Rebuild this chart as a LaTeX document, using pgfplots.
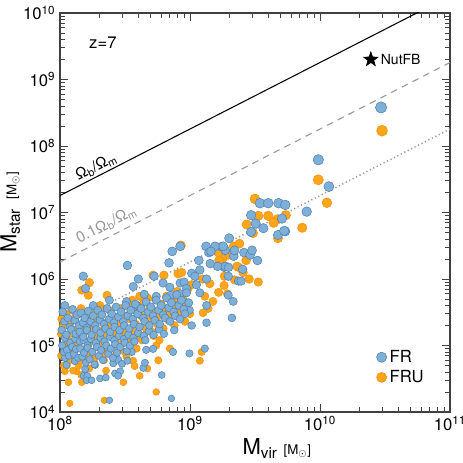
\documentclass[border=0pt]{standalone}
\usepackage{fontspec}
\setmainfont{TeX Gyre Heros}
\usepackage{pgfplots}
\usepackage{pgfplotstable}
\pgfplotsset{compat=1.18}
\usetikzlibrary{calc}

\definecolor{fillB}{RGB}{125,175,215}
\definecolor{edgeB}{RGB}{80,130,178}
\definecolor{fillO}{RGB}{255,165,25}
\definecolor{edgeO}{RGB}{242,145,20}
\definecolor{lgray}{RGB}{150,150,150}

% filled five-pointed star
\pgfdeclareplotmark{fstar}{%
  \pgfpathmoveto{\pgfpointpolar{90}{\pgfplotmarksize}}%
  \pgfpathlineto{\pgfpointpolar{126}{0.4\pgfplotmarksize}}%
  \pgfpathlineto{\pgfpointpolar{162}{\pgfplotmarksize}}%
  \pgfpathlineto{\pgfpointpolar{198}{0.4\pgfplotmarksize}}%
  \pgfpathlineto{\pgfpointpolar{234}{\pgfplotmarksize}}%
  \pgfpathlineto{\pgfpointpolar{270}{0.4\pgfplotmarksize}}%
  \pgfpathlineto{\pgfpointpolar{306}{\pgfplotmarksize}}%
  \pgfpathlineto{\pgfpointpolar{342}{0.4\pgfplotmarksize}}%
  \pgfpathlineto{\pgfpointpolar{18}{\pgfplotmarksize}}%
  \pgfpathlineto{\pgfpointpolar{54}{0.4\pgfplotmarksize}}%
  \pgfpathclose\pgfusepathqfillstroke}

\newcommand{\labsub}[1]{{\fontsize{11.5}{13}\selectfont\raisebox{-0.45ex}{#1}}}
\newcommand{\msun}{{\fontsize{10}{12}\selectfont [M$_\odot$]}}

% FRU run (orange)
\pgfplotstableread{
x y
3.0e10 1.7e8
9.7e9 3.1e7
1.13e10 1.4e7
7.3e9 5.9e6
3.16e9 1.6e7
3.35e9 8.9e6
4.0e9 8.9e6
5.45e9 9.1e6
4.7e9 7.9e6
4.4e9 7.0e6
2.73e9 6.6e6
3.05e9 4.9e6
4.75e9 4.1e6
2.17e9 3.1e6
2.4e9 3.4e6
1.7e9 2.5e6
1.97e9 2.3e6
2.7e9 1.9e6
1.78e9 2.0e6
2.36e9 1.5e6
2.56e9 1.25e6
1.84e9 1.1e6
2.2e9 9.7e5
2.85e9 1.0e6
3.35e9 9.0e5
1.83e9 8.0e5
1.94e9 6.0e5
1.65e9 2.5e6
1.67e9 1.9e6
2.3e9 1.55e6
1.7e9 1.6e6
8.5e8 3.2e6
8.1e8 1.2e6
8.6e8 1.25e6
1.25e9 1.0e6
1.03e9 8.2e5
1.42e9 8.5e5
1.3e9 5.5e5
1.5e9 4.6e5
1.66e9 6.3e5
1.38e9 3.6e5
1.26e9 3.1e5
1.23e9 8.0e4
1.19e9 5.9e4
1.68e8 8.8e5
1.47e8 6.8e5
1.65e8 5.7e5
5.2e8 1.14e6
6.3e8 1.14e6
4.1e8 5.5e5
4.7e8 5.2e5
7.9e8 5.2e5
3.6e8 4.8e5
2.3e8 5.7e5
2.03e8 4.0e5
1.45e8 3.6e5
1.23e8 3.4e5
1.13e8 5.0e4
1.34e8 4.1e4
1.46e8 3.6e4
1.16e8 2.8e4
1.47e8 2.8e4
1.19e8 1.35e4
1.09e8 4.1e4
2.26e8 4.2e4
3.07e8 2.8e4
2.19e8 1.5e4
3.25e8 6.8e4
3.65e8 5.9e4
3.75e8 4.9e4
4.1e8 3.5e4
4.7e8 4.5e4
5.5e8 1.0e5
5.5e8 2.0e4
5.7e8 6.0e4
7.0e8 9.0e4
1.03e8 2.5e5
1.02e8 1.5e5
1.06e8 1.0e5
1.02e8 7.0e4
1.07e8 5.0e4
1.1e8 3.0e5
1.06e8 2.0e5
1.14e8 1.2e5
1.07e8 8.0e4
1.16e8 5.8e4
1.2e8 2.2e5
1.15e8 1.4e5
1.25e8 9.0e4
1.16e8 6.0e4
1.26e8 4.2e4
1.32e8 2.7e5
1.27e8 1.7e5
1.37e8 1.1e5
1.28e8 7.0e4
1.39e8 5.0e4
1.45e8 2.0e5
1.39e8 1.3e5
1.51e8 8.5e4
1.41e8 5.8e4
1.6e8 2.5e5
1.54e8 1.6e5
1.66e8 1.05e5
1.55e8 7.0e4
1.68e8 4.5e4
1.75e8 3.1e5
1.68e8 1.9e5
1.82e8 1.25e5
1.7e8 8.0e4
1.84e8 5.5e4
1.9e8 2.3e5
1.82e8 1.5e5
1.98e8 9.5e4
1.84e8 6.5e4
2.05e8 3.5e5
1.97e8 2.6e5
2.13e8 1.7e5
1.99e8 1.1e5
2.15e8 7.5e4
2.25e8 2.2e5
2.16e8 1.4e5
2.34e8 9.0e4
2.18e8 6.0e4
2.45e8 3.3e5
2.35e8 2.0e5
2.55e8 1.3e5
2.38e8 8.5e4
2.7e8 2.5e5
2.59e8 1.6e5
2.81e8 1.05e5
2.62e8 7.0e4
2.95e8 3.6e5
2.83e8 2.2e5
3.07e8 1.4e5
2.86e8 9.0e4
3.25e8 2.8e5
3.12e8 1.8e5
3.38e8 1.2e5
3.15e8 8.0e4
3.6e8 4.0e5
3.46e8 2.5e5
3.74e8 1.6e5
3.49e8 1.05e5
4.0e8 3.2e5
3.84e8 2.1e5
4.16e8 1.4e5
3.88e8 9.0e4
4.4e8 4.4e5
4.22e8 2.8e5
4.58e8 1.8e5
4.27e8 1.2e5
4.9e8 3.6e5
4.7e8 2.4e5
5.1e8 1.6e5
5.4e8 5.0e5
5.18e8 3.2e5
5.62e8 2.1e5
5.24e8 1.4e5
6.0e8 4.2e5
5.76e8 2.8e5
6.24e8 1.8e5
5.82e8 1.2e5
6.6e8 5.5e5
6.34e8 3.6e5
6.86e8 2.4e5
7.3e8 4.6e5
7.01e8 3.1e5
7.59e8 2.0e5
8.0e8 6.5e5
7.68e8 4.0e5
8.32e8 2.6e5
8.8e8 5.2e5
8.45e8 3.4e5
9.15e8 2.3e5
9.6e8 7.0e5
9.22e8 4.5e5
9.98e8 3.0e5
}\fruData

% FR run (blue)
\pgfplotstableread{
x y
2.95e10 3.8e8
9.7e9 6.2e7
1.17e10 2.45e7
7.9e9 1.03e7
5.4e9 5.2e6
4.75e9 4.6e6
2.0e9 4.1e6
3.45e9 1.38e7
4.0e9 1.38e7
4.8e9 1.38e7
5.4e9 1.3e7
2.95e9 9.1e6
5.1e9 8.1e6
3.2e9 6.8e6
3.67e9 5.8e6
2.95e9 5.1e6
5.3e9 5.3e6
1.75e9 3.06e6
1.87e9 2.7e6
2.17e9 2.2e6
2.6e9 2.5e6
2.9e9 2.3e6
3.0e9 2.7e6
3.3e9 1.9e6
1.83e9 1.5e6
1.87e9 1.55e6
1.63e9 1.55e6
2.54e9 1.4e6
1.97e9 1.1e6
2.36e9 9.3e5
2.47e9 9.3e5
1.97e9 5.7e5
2.15e9 4.6e5
2.1e9 2.6e5
1.33e9 3.1e6
1.56e9 3.1e6
1.8e9 3.1e6
1.4e9 2.5e6
1.45e9 2.6e6
2.2e9 2.7e6
1.43e9 1.7e6
1.98e9 1.5e6
8.4e8 3.1e6
7.3e8 2.6e6
6.9e8 1.75e6
1.17e9 1.9e6
1.19e9 1.37e6
1.03e9 1.22e6
1.09e9 1.1e6
1.34e9 1.0e6
8.4e8 8.7e5
9.0e8 9.0e5
1.12e9 8.2e5
9.4e8 7.2e5
1.19e9 6.2e5
1.34e9 4.0e5
9.9e8 3.4e5
1.03e9 2.0e5
1.34e9 2.2e5
9.9e8 7.6e4
1.3e9 9.0e4
1.51e8 1.1e6
1.57e8 7.2e5
3.3e8 1.6e6
4.0e8 1.0e6
3.66e8 7.7e5
5.3e8 1.1e6
6.2e8 8.7e5
7.0e8 7.5e5
4.45e8 5.9e5
5.5e8 5.5e5
7.1e8 5.7e5
8.4e8 6.0e5
3.25e8 4.6e5
2.4e8 4.8e5
3.9e8 4.0e5
1.8e8 4.0e5
1.09e8 4.0e5
1.09e8 6.5e4
1.3e8 5.8e4
1.12e8 5.1e4
1.52e8 3.5e4
1.62e8 3.5e4
1.6e8 3.0e4
1.75e8 3.0e4
1.56e8 4.4e4
1.86e8 5.1e4
2.03e8 3.2e4
2.25e8 3.3e4
2.65e8 3.8e4
2.9e8 4.1e4
2.8e8 3.5e4
2.4e8 1.5e4
2.57e8 5.4e4
2.8e8 6.1e4
3.0e8 5.3e4
3.3e8 5.9e4
3.56e8 8.0e4
4.37e8 4.6e4
4.5e8 5.5e4
4.6e8 8.6e4
5.2e8 8.9e4
6.05e8 3.6e4
7.2e8 1.6e4
7.4e8 8.0e4
1.05e8 3.2e5
1.08e8 2.3e5
1.03e8 1.7e5
1.09e8 1.3e5
1.04e8 1.0e5
1.07e8 8.0e4
1.15e8 2.6e5
1.19e8 1.9e5
1.12e8 1.45e5
1.2e8 1.1e5
1.13e8 8.5e4
1.17e8 7.0e4
1.25e8 3.5e5
1.3e8 2.4e5
1.22e8 1.75e5
1.31e8 1.25e5
1.24e8 9.5e4
1.28e8 7.5e4
1.35e8 2.9e5
1.4e8 2.0e5
1.32e8 1.5e5
1.42e8 1.15e5
1.33e8 8.8e4
1.38e8 6.5e4
1.45e8 3.1e5
1.5e8 2.2e5
1.42e8 1.6e5
1.52e8 1.2e5
1.43e8 9.0e4
1.48e8 6.8e4
1.55e8 2.6e5
1.61e8 1.85e5
1.51e8 1.35e5
1.63e8 1.0e5
1.53e8 7.8e4
1.58e8 5.5e4
1.65e8 3.3e5
1.72e8 2.3e5
1.61e8 1.7e5
1.73e8 1.25e5
1.63e8 9.2e4
1.69e8 6.2e4
1.8e8 2.8e5
1.87e8 2.0e5
1.75e8 1.45e5
1.89e8 1.1e5
1.77e8 8.0e4
1.84e8 5.2e4
1.95e8 3.4e5
2.03e8 2.4e5
1.9e8 1.75e5
2.05e8 1.3e5
1.92e8 9.5e4
1.99e8 7.0e4
2.1e8 2.9e5
2.18e8 2.1e5
2.05e8 1.55e5
2.2e8 1.15e5
2.07e8 8.5e4
2.14e8 6.0e4
2.3e8 3.6e5
2.39e8 2.5e5
2.24e8 1.8e5
2.42e8 1.35e5
2.27e8 1.0e5
2.35e8 7.5e4
2.5e8 3.0e5
2.6e8 2.2e5
2.43e8 1.6e5
2.62e8 1.2e5
2.46e8 9.0e4
2.55e8 6.5e4
2.7e8 3.8e5
2.81e8 2.7e5
2.63e8 1.9e5
2.84e8 1.4e5
2.66e8 1.05e5
2.75e8 7.8e4
2.95e8 3.2e5
3.07e8 2.3e5
2.87e8 1.7e5
3.1e8 1.25e5
2.91e8 9.5e4
3.2e8 4.0e5
3.33e8 2.8e5
3.12e8 2.0e5
3.36e8 1.45e5
3.15e8 1.1e5
3.26e8 8.2e4
3.5e8 3.4e5
3.64e8 2.5e5
3.41e8 1.8e5
3.67e8 1.3e5
3.45e8 1.0e5
3.8e8 4.2e5
3.95e8 3.0e5
3.7e8 2.1e5
3.99e8 1.55e5
3.74e8 1.15e5
4.2e8 3.6e5
4.37e8 2.6e5
4.09e8 1.9e5
4.41e8 1.4e5
4.6e8 4.5e5
4.78e8 3.2e5
4.48e8 2.3e5
4.83e8 1.65e5
4.53e8 1.2e5
5.0e8 3.8e5
5.2e8 2.8e5
4.87e8 2.0e5
5.25e8 1.45e5
5.5e8 4.8e5
5.72e8 3.4e5
5.36e8 2.4e5
5.78e8 1.75e5
6.0e8 4.0e5
6.24e8 2.9e5
5.85e8 2.1e5
6.3e8 1.5e5
6.6e8 5.2e5
6.86e8 3.7e5
6.43e8 2.6e5
7.2e8 4.4e5
7.49e8 3.2e5
7.01e8 2.3e5
7.56e8 1.7e5
7.9e8 5.8e5
8.2e8 4.0e5
7.7e8 2.8e5
8.6e8 4.8e5
8.94e8 3.5e5
8.38e8 2.5e5
9.4e8 6.2e5
9.78e8 4.4e5
9.16e8 3.0e5
}\frData

\begin{document}
\begin{tikzpicture}
\begin{axis}[
    scale only axis,
    width=292.5pt, height=299.25pt,
    xmode=log, ymode=log,
    xmin=1e8, xmax=1e11,
    ymin=1e4, ymax=1e10,
    xtick={1e8,1e9,1e10,1e11},
    xticklabels={10\textsuperscript{8},10\textsuperscript{9},10\textsuperscript{10},10\textsuperscript{11}},
    ytick={1e4,1e5,1e6,1e7,1e8,1e9,1e10},
    yticklabels={10\textsuperscript{4},10\textsuperscript{5},10\textsuperscript{6},10\textsuperscript{7},10\textsuperscript{8},10\textsuperscript{9},10\textsuperscript{10}},
    tick label style={font=\fontsize{12.5}{14}\selectfont},
    major tick length=6pt, minor tick length=3.5pt,
    axis line style={line width=0.8pt, black!75},
    every tick/.style={black!75, line width=0.6pt},
    xlabel={{\fontsize{16.5}{18}\selectfont M\labsub{vir}}\hspace{5pt}\msun},
    ylabel={{\fontsize{16.5}{18}\selectfont M\labsub{star}}\hspace{7pt}\msun},
    xlabel style={at={(axis description cs:0.556,-0.055)}, anchor=north},
    ylabel style={at={(axis description cs:-0.09,0.5)}, anchor=south},
    reverse legend,
    legend style={draw=none, fill=none, at={(axis description cs:0.80,0.112)}, anchor=west,
      font=\fontsize{12.5}{14}\selectfont, row sep=0.5pt},
    legend cell align=left,
]
% Omega_b/Omega_m and scaled versions
\addplot[black, line width=0.8pt, forget plot] coordinates {(1e8,1.8e7) (1e11,1.8e10)};
\addplot[lgray, line width=0.8pt, dash pattern=on 5pt off 4pt, forget plot] coordinates {(1e8,1.8e6) (1e11,1.8e9)};
\addplot[lgray, line width=1.1pt, dash pattern=on 0.9pt off 2pt, forget plot] coordinates {(1e8,1.8e5) (1e11,1.8e8)};

\addplot[only marks, scatter, mark=*,
    visualization depends on={y \as \ly},
    scatter/use mapped color={draw=edgeO, fill=fillO},
    scatter/@pre marker code/.append style={/tikz/mark size={2.4+0.4*(\ly/2.302585-4)}},
    mark options={line width=0.4pt},
    legend image code/.code={\draw[draw=edgeO, fill=fillO, line width=0.4pt] (0.2em,0pt) circle (3.8pt);}]
    table[x=x, y=y] {\fruData};
\addlegendentry{FRU}

\addplot[only marks, scatter, mark=*,
    visualization depends on={y \as \ly},
    scatter/use mapped color={draw=edgeB, fill=fillB},
    scatter/@pre marker code/.append style={/tikz/mark size={2.4+0.4*(\ly/2.302585-4)}},
    mark options={line width=0.4pt},
    legend image code/.code={\draw[draw=edgeB, fill=fillB, line width=0.4pt] (0.2em,0pt) circle (3.8pt);}]
    table[x=x, y=y] {\frData};
\addlegendentry{FR}

\addplot[only marks, mark=fstar, mark size=5.8pt, black, forget plot,
    nodes near coords={NutFB},
    every node near coord/.append style={anchor=west, xshift=4pt, font=\fontsize{10.5}{12}\selectfont}]
    coordinates {(2.46e10,2.0e9)};

\node at (axis description cs:0.11,0.925) {\fontsize{12.5}{14}\selectfont z=7};
\node[rotate=27.1, anchor=south, inner sep=1.5pt, font=\fontsize{11.5}{13}\selectfont]
    at (axis cs:2.04e8,3.67e7) {Ω\textsubscript{b}/Ω\textsubscript{m}};
\node[rotate=27.1, anchor=south, inner sep=1.5pt, yshift=2pt, text=lgray, font=\fontsize{11.5}{13}\selectfont]
    at (axis cs:2.5e8,4.5e6) {0.1Ω\textsubscript{b}/Ω\textsubscript{m}};
\end{axis}
\pgfresetboundingbox
\path[use as bounding box] ($(current axis.south west)+(-45pt,-38.25pt)$) rectangle ($(current axis.north east)+(9.75pt,9.75pt)$);
\end{tikzpicture}
\end{document}
